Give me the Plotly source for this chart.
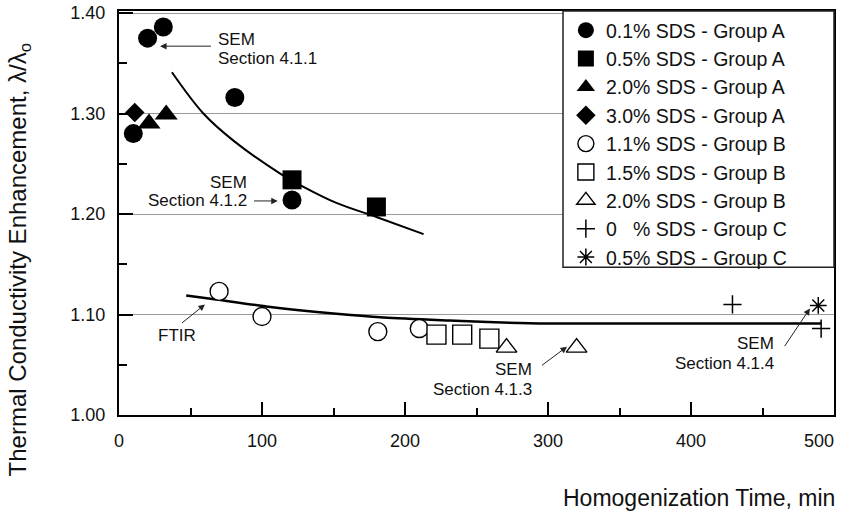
import plotly.graph_objects as go

# ---- data ----
a01_x = [10, 20, 31, 81, 121]
a01_y = [1.280, 1.375, 1.386, 1.316, 1.214]
a05_x = [121, 180]
a05_y = [1.234, 1.207]
a20_x = [21, 33]
a20_y = [1.290, 1.299]
a30_x = [11]
a30_y = [1.301]
b11_x = [70, 100, 181, 210]
b11_y = [1.123, 1.098, 1.083, 1.086]
b15_x = [222, 240, 259]
b15_y = [1.080, 1.080, 1.076]
b20_x = [271, 320]
b20_y = [1.067, 1.067]
c00_x = [429, 491]
c00_y = [1.110, 1.086]
c05_x = [489]
c05_y = [1.109]

fitA_x = [37, 59, 80, 113, 129, 152, 180, 213]
fitA_y = [1.341, 1.300, 1.273, 1.240, 1.227, 1.211, 1.197, 1.180]
fitB_x = [47, 68, 103, 150, 185, 231, 268, 300, 491]
fitB_y = [1.119, 1.115, 1.108, 1.101, 1.097, 1.094, 1.092, 1.091, 1.091]

x_ticks = [0, 100, 200, 300, 400, 500]
x_tick_labels = ["0", "100", "200", "300", "400", "500"]
y_ticks = [1.00, 1.10, 1.20, 1.30, 1.40]

FONT = "Liberation Sans, Arial, Helvetica, sans-serif"

fig = go.Figure()

# fitted curves
fig.add_trace(go.Scatter(x=fitA_x, y=fitA_y, mode="lines", showlegend=False,
                         line=dict(color="black", width=2, shape="spline", smoothing=1.0),
                         hoverinfo="skip"))
fig.add_trace(go.Scatter(x=fitB_x, y=fitB_y, mode="lines", showlegend=False,
                         line=dict(color="black", width=2.5, shape="spline", smoothing=0.8),
                         hoverinfo="skip"))

series = [
    ("0.1% SDS - Group A", a01_x, a01_y, "circle", 19, "black", 0),
    ("0.5% SDS - Group A", a05_x, a05_y, "square", 19, "black", 0),
    ("2.0% SDS - Group A", a20_x, a20_y, "triangle-up", 20, "black", 0),
    ("3.0% SDS - Group A", a30_x, a30_y, "diamond", 15, "black", 0),
    ("1.1% SDS - Group B", b11_x, b11_y, "circle", 18, "white", 1.4),
    ("1.5% SDS - Group B", b15_x, b15_y, "square", 19, "white", 1.4),
    ("2.0% SDS - Group B", b20_x, b20_y, "triangle-up", 18, "white", 1.4),
    ("0   % SDS - Group C", c00_x, c00_y, "cross-thin-open", 13, "black", 1.5),
    ("0.5% SDS - Group C", c05_x, c05_y, "asterisk-open", 14, "black", 1.5),
]
for name, xs, ys, sym, size, fill, lw in series:
    fig.add_trace(go.Scatter(
        x=xs, y=ys, mode="markers", name=name,
        marker=dict(symbol=sym, size=size, color=fill,
                    line=dict(color="black", width=lw)),
    ))

# empty helper trace so the overlay axis (carrying the right-most label) is drawn
fig.add_trace(go.Scatter(x=[], y=[], xaxis="x2", yaxis="y", showlegend=False,
                         hoverinfo="skip"))

annos = []
def txt(x, y, t, anchor):
    annos.append(dict(x=x, y=y, xref="x", yref="y", text=t, showarrow=False,
                      xanchor=anchor, yanchor="middle", borderpad=0,
                      font=dict(family=FONT, size=17, color="#111")))

def arrow(x, y, ax, ay):
    annos.append(dict(x=x, y=y, ax=ax, ay=ay, xref="x", yref="y", axref="x", ayref="y",
                      text=" ", showarrow=True, arrowhead=2, arrowsize=1.3,
                      arrowwidth=1, arrowcolor="#222", font=dict(size=2)))

txt(68.5, 1.374, "SEM", "left")
txt(68.5, 1.355, "Section 4.1.1", "left")
arrow(28.7, 1.367, 65.7, 1.367)

txt(90.2, 1.231, "SEM", "right")
txt(90.2, 1.213, "Section 4.1.2", "right")
arrow(111, 1.213, 93, 1.213)

txt(40.6, 1.079, "FTIR", "center")
arrow(60.1, 1.110, 42.7, 1.090)

txt(289.5, 1.045, "SEM", "right")
txt(289.5, 1.025, "Section 4.1.3", "right")
arrow(313.3, 1.068, 294.4, 1.048)

txt(458.7, 1.071, "SEM", "right")
txt(458.7, 1.051, "Section 4.1.4", "right")
arrow(483.2, 1.106, 464.3, 1.066)

# axis titles placed as in the reference
annos.append(dict(xref="paper", yref="paper", x=0, y=0.385, xshift=-100,
                  text="Thermal Conductivity Enhancement, λ/λ<sub>o</sub>",
                  textangle=-90, showarrow=False, xanchor="center", yanchor="middle",
                  font=dict(family=FONT, size=24, color="#111")))
annos.append(dict(xref="paper", yref="paper", x=1, y=-0.205, xshift=3,
                  text="Homogenization Time, min", showarrow=False,
                  xanchor="right", yanchor="middle",
                  font=dict(family=FONT, size=23, color="#111")))

fig.update_layout(
    width=845, height=512, autosize=False,
    margin=dict(l=119, r=11, t=11, b=97, autoexpand=False),
    paper_bgcolor="white", plot_bgcolor="white",
    font=dict(family=FONT, size=18, color="#111"),
    annotations=annos,
    showlegend=True,
    legend=dict(x=0.625, y=1.0, xanchor="left", yanchor="top",
                bgcolor="rgba(0,0,0,0)", borderwidth=0,
                font=dict(family=FONT, size=19.5, color="#111"),
                itemsizing="trace", tracegroupgap=0),
    shapes=[dict(type="rect", xref="paper", yref="paper",
                 x0=0.621, x1=1.0, y0=0.366, y1=1.0,
                 line=dict(color="#222", width=1.5), fillcolor="white", layer="above")],
)

# main axis: all ticks, labels for all but the last (which sits flush right, below)
main_text = list(x_tick_labels[:-1]) + [""]
fig.update_xaxes(range=[0, 500], tickvals=x_ticks, ticktext=main_text,
                 ticks="inside", ticklen=13,
                 tickwidth=1.5, tickcolor="black", showline=True, linewidth=2,
                 linecolor="black", mirror=True, showgrid=False, zeroline=False,
                 ticklabelstandoff=8, automargin=False,
                 minor=dict(dtick=50, tick0=0, ticks="inside", ticklen=7,
                            tickwidth=1.5, tickcolor="black", showgrid=False))
fig.update_layout(xaxis2=dict(
    overlaying="x", anchor="y", side="bottom", matches="x",
    tickvals=x_ticks[-1:], ticktext=x_tick_labels[-1:],
    ticklabelposition="outside left", ticks="", showline=False,
    showgrid=False, zeroline=False, automargin=False, ticklabelstandoff=13,
    tickfont=dict(family=FONT, size=18, color="#111")))
fig.update_yaxes(range=[1.0, 1.402], tickvals=y_ticks, tickformat=".2f",
                 ticks="inside", ticklen=14, tickwidth=1.5, tickcolor="black",
                 showline=True, linewidth=2, linecolor="black", mirror=True,
                 showgrid=True, gridcolor="#999", gridwidth=1, zeroline=False,
                 ticklabelstandoff=8, automargin=False,
                 minor=dict(dtick=0.05, tick0=1.0, ticks="inside", ticklen=8,
                            tickwidth=1.5, tickcolor="black", showgrid=False))

fig.write_html("out.html", config={"displayModeBar": False},
               post_script="document.body.style.margin='0px';document.body.style.overflow='hidden';")
